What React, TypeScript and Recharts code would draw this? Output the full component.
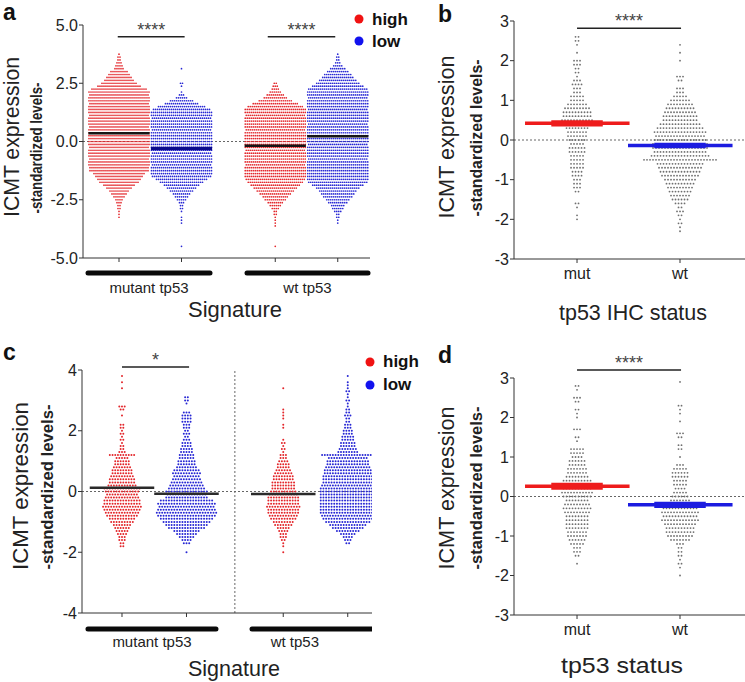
import React from "react";
import {
  ScatterChart,
  Scatter,
  XAxis,
  YAxis,
  ReferenceLine,
  ReferenceArea,
} from "recharts";

const FONT = "'Liberation Sans', Arial, sans-serif";
const AXIS = "#333";
const TXT = "#222";
const RED = "#e3262b";
const BLUE = "#2828d4";
const GREY = "#6f6f6f";

// ---------- panel a (Signature, high/low, mutant vs wt) ----------
const aLevels = [
  3.75, 3.625, 3.5, 3.375, 3.25, 3.125, 3.0, 2.875, 2.75, 2.625,
  2.5, 2.375, 2.25, 2.125, 2.0, 1.875, 1.75, 1.625, 1.5, 1.375,
  1.25, 1.125, 1.0, 0.875, 0.75, 0.625, 0.5, 0.375, 0.25, 0.125,
  0, -0.125, -0.25, -0.375, -0.5, -0.625, -0.75, -0.875, -1.0, -1.125,
  -1.25, -1.375, -1.5, -1.625, -1.75, -1.875, -2.0, -2.125, -2.25, -2.375,
  -2.5, -2.625, -2.75, -2.875, -3.0, -3.125, -3.25, -3.375, -3.5, -3.625,
  -3.75, -3.875, -4.0, -4.125, -4.25, -4.375, -4.5, -4.625,
];
const aMutHigh = [
  1, 2, 2, 3, 4, 5, 9, 11, 13, 15,
  18, 22, 28, 31, 30, 31, 31, 30, 31, 31,
  31, 30, 31, 31, 31, 30, 31, 31, 31, 31,
  31, 31, 30, 31, 31, 31, 30, 31, 31, 30,
  30, 26, 24, 22, 20, 16, 13, 10, 8, 6,
  4, 3, 2, 2, 1, 1, 1, 0, 0, 0,
  0, 0, 0, 0, 0, 0, 0, 0,
];
const aMutLow = [
  0, 0, 0, 0, 0, 1, 0, 0, 0, 0,
  2, 1, 0, 1, 3, 6, 12, 17, 24, 29,
  31, 31, 30, 31, 31, 31, 30, 31, 31, 31,
  31, 31, 31, 31, 30, 31, 31, 31, 30, 31,
  31, 31, 30, 26, 22, 18, 15, 12, 9, 7,
  5, 3, 2, 2, 1, 0, 1, 1, 1, 0,
  0, 0, 0, 0, 0, 0, 1, 0,
];
const aWtHigh = [
  0, 0, 0, 0, 0, 0, 0, 0, 0, 0,
  2, 3, 4, 6, 9, 12, 17, 23, 28, 31,
  31, 30, 31, 31, 31, 31, 30, 31, 31, 31,
  31, 31, 31, 30, 31, 31, 31, 31, 30, 31,
  31, 31, 31, 30, 28, 25, 22, 19, 16, 13,
  11, 8, 6, 4, 2, 2, 1, 1, 1, 1,
  0, 0, 0, 0, 0, 0, 1, 0,
];
const aWtLow = [
  1, 2, 2, 3, 5, 8, 11, 14, 16, 19,
  22, 26, 30, 31, 31, 30, 31, 31, 31, 30,
  31, 31, 31, 31, 30, 31, 31, 31, 31, 31,
  31, 30, 31, 31, 31, 31, 30, 31, 31, 31,
  31, 31, 31, 31, 30, 26, 22, 19, 17, 15,
  12, 10, 7, 6, 4, 2, 2, 1, 1, 0,
  0, 0, 0, 0, 0, 0, 0, 0,
];
const aPos = [1, 2, 3.5, 4.5];
const aMeans = [0.35, -0.3, -0.18, 0.22];
const aYTicks = [-5, -2.5, 0, 2.5, 5];
const aGroups = ["mutant tp53", "wt tp53"];

// ---------- panel b (tp53 IHC status) ----------
const bLevels = [
  2.6, 2.5, 2.4, 2.3, 2.2, 2.1, 2.0, 1.9, 1.8, 1.7,
  1.6, 1.5, 1.4, 1.3, 1.2, 1.1, 1.0, 0.9, 0.8, 0.7,
  0.6, 0.5, 0.4, 0.3, 0.2, 0.1, 0, -0.1, -0.2, -0.3,
  -0.4, -0.5, -0.6, -0.7, -0.8, -0.9, -1.0, -1.1, -1.2, -1.3,
  -1.4, -1.5, -1.6, -1.7, -1.8, -1.9, -2.0, -2.1, -2.2, -2.3,
];
const bMut = [
  2, 2, 1, 0, 1, 0, 3, 3, 2, 2,
  1, 3, 4, 3, 3, 5, 5, 7, 9, 10,
  10, 11, 9, 8, 7, 7, 6, 5, 6, 6,
  5, 5, 5, 5, 4, 4, 3, 3, 3, 2,
  0, 0, 2, 1, 0, 1, 1, 0, 0, 0,
];
const bWt = [
  0, 0, 1, 0, 1, 0, 1, 0, 0, 0,
  3, 2, 0, 3, 3, 5, 7, 9, 10, 11,
  12, 12, 14, 16, 18, 17, 18, 19, 19, 18,
  20, 25, 16, 15, 14, 13, 11, 10, 9, 8,
  7, 6, 4, 2, 3, 2, 1, 2, 1, 1,
];
const bPos = [1, 2];
const bCats = ["mut", "wt"];
const bMeans = [0.42, -0.14];
const bSem = [0.08, 0.07];
const bYTicks = [-3, -2, -1, 0, 1, 2, 3];

// ---------- panel c (Signature, second cohort) ----------
const cLevels = [
  3.8, 3.7, 3.6, 3.5, 3.4, 3.3, 3.2, 3.1, 3.0, 2.9,
  2.8, 2.7, 2.6, 2.5, 2.4, 2.3, 2.2, 2.1, 2.0, 1.9,
  1.8, 1.7, 1.6, 1.5, 1.4, 1.3, 1.2, 1.1, 1.0, 0.9,
  0.8, 0.7, 0.6, 0.5, 0.4, 0.3, 0.2, 0.1, 0, -0.1,
  -0.2, -0.3, -0.4, -0.5, -0.6, -0.7, -0.8, -0.9, -1.0, -1.1,
  -1.2, -1.3, -1.4, -1.5, -1.6, -1.7, -1.8, -1.9, -2.0,
];
const cMutHigh = [
  1, 0, 1, 0, 1, 0, 0, 0, 0, 0,
  3, 2, 0, 1, 0, 0, 2, 2, 1, 2,
  1, 2, 1, 2, 2, 3, 10, 5, 6, 6,
  7, 8, 8, 9, 10, 10, 11, 14, 13, 12,
  13, 14, 14, 15, 14, 13, 12, 10, 9, 7,
  6, 5, 4, 3, 3, 2, 2, 0, 0,
];
const cMutLow = [
  0, 0, 0, 0, 0, 0, 0, 2, 2, 1,
  0, 0, 3, 4, 4, 4, 3, 3, 2, 3,
  2, 3, 4, 4, 5, 5, 6, 6, 7, 7,
  8, 10, 11, 10, 11, 12, 13, 14, 16, 15,
  16, 20, 22, 21, 22, 23, 22, 20, 18, 16,
  14, 10, 8, 6, 4, 3, 0, 0, 1,
];
const cWtHigh = [
  0, 0, 0, 0, 1, 0, 0, 0, 0, 0,
  0, 1, 1, 1, 1, 0, 1, 1, 0, 0,
  0, 1, 2, 1, 2, 1, 3, 3, 4, 5,
  5, 6, 7, 8, 8, 9, 9, 9, 10, 11,
  12, 12, 12, 13, 12, 12, 11, 10, 8, 7,
  5, 4, 3, 3, 2, 1, 1, 0, 1,
];
const cWtLow = [
  1, 0, 1, 1, 1, 2, 1, 1, 2, 1,
  1, 2, 2, 3, 2, 2, 3, 3, 4, 4,
  5, 5, 6, 6, 7, 8, 20, 15, 16, 16,
  17, 18, 18, 19, 19, 19, 20, 21, 21, 21,
  21, 21, 21, 21, 21, 21, 20, 19, 17, 14,
  12, 9, 6, 4, 3, 2, 0, 0, 0,
];
const cPos = [1, 2, 3.5, 4.5];
const cMeans = [0.12, -0.07, -0.08, 0.03];
const cYTicks = [-4, -2, 0, 2, 4];
const cGroups = ["mutant tp53", "wt tp53"];

// ---------- panel d (tp53 status) ----------
const dLevels = [
  2.9, 2.8, 2.7, 2.6, 2.5, 2.4, 2.3, 2.2, 2.1, 2.0,
  1.9, 1.8, 1.7, 1.6, 1.5, 1.4, 1.3, 1.2, 1.1, 1.0,
  0.9, 0.8, 0.7, 0.6, 0.5, 0.4, 0.3, 0.2, 0.1, 0,
  -0.1, -0.2, -0.3, -0.4, -0.5, -0.6, -0.7, -0.8, -0.9, -1.0,
  -1.1, -1.2, -1.3, -1.4, -1.5, -1.6, -1.7, -1.8, -1.9, -2.0,
];
const dMut = [
  0, 2, 1, 0, 3, 2, 0, 2, 1, 1,
  0, 0, 3, 0, 2, 1, 0, 5, 5, 4,
  6, 6, 7, 7, 8, 10, 9, 10, 11, 10,
  8, 9, 10, 9, 8, 8, 8, 8, 7, 7,
  6, 5, 3, 3, 2, 0, 1, 0, 0, 0,
];
const dWt = [
  1, 0, 0, 0, 0, 0, 2, 1, 1, 0,
  1, 0, 0, 3, 2, 0, 2, 2, 0, 1,
  0, 3, 5, 6, 6, 5, 5, 4, 5, 6,
  7, 9, 12, 13, 12, 13, 11, 10, 10, 9,
  7, 3, 2, 2, 2, 1, 2, 1, 0, 1,
];
const dMeans = [0.26, -0.21];
const dSem = [0.09, 0.08];

// one point per value row; the shape spreads the row's count sideways
function rows(levels: number[], counts: number[], x: number) {
  return levels
    .map((y, i) => ({ x, y, n: counts[i] ?? 0 }))
    .filter((r) => r.n > 0);
}

function swarmShape(color: string, gap: number, r: number) {
  return (props: any) => {
    const { cx, cy, payload } = props;
    const n = payload?.n ?? 0;
    const dots = [];
    for (let j = 0; j < n; j++) {
      dots.push(
        <circle key={j} cx={cx + (j - (n - 1) / 2) * gap} cy={cy} r={r} fill={color} />
      );
    }
    return <g>{dots}</g>;
  };
}

const NoTick = () => <g />;

function AxisTitle({ tx, ty, text, size, len }: any) {
  return (
    <text
      x={tx}
      y={ty}
      textAnchor="middle"
      fontSize={size}
      fill={TXT}
      fontFamily={FONT}
      textLength={len}
      lengthAdjust="spacingAndGlyphs"
    >
      {text}
    </text>
  );
}

function YTitle({ mx, my, ml, sx, sy, sl }: any) {
  return (
    <g fill={TXT} fontFamily={FONT}>
      <text
        x={mx}
        y={my}
        transform={`rotate(-90 ${mx} ${my})`}
        textAnchor="middle"
        fontSize={21.5}
        textLength={ml}
        lengthAdjust="spacingAndGlyphs"
      >
        ICMT expression
      </text>
      <text
        x={sx}
        y={sy}
        transform={`rotate(-90 ${sx} ${sy})`}
        textAnchor="middle"
        fontSize={17}
        fontWeight={700}
        textLength={sl}
        lengthAdjust="spacingAndGlyphs"
      >
        -standardized levels-
      </text>
    </g>
  );
}

const starLabel = (text: string) => ({
  value: text,
  position: "top" as const,
  offset: 1,
  fontSize: 18,
  fill: "#444",
  fontFamily: FONT,
});

const groupLabel = (text: string, offset: number) => ({
  value: text,
  position: "bottom" as const,
  offset,
  fontSize: 15,
  fill: TXT,
  fontFamily: FONT,
});

// thick black bar under a group of two columns, with its name
function GroupBar({ x1, x2, y, label, labelX1, labelX2, offset }: any) {
  return [
    <ReferenceLine
      key="bar"
      segment={[{ x: x1, y }, { x: x2, y }]}
      stroke="#0a0a0a"
      strokeWidth={5}
      strokeLinecap="round"
      ifOverflow="visible"
    />,
    <ReferenceLine
      key="txt"
      segment={[{ x: labelX1 ?? x1, y }, { x: labelX2 ?? x2, y }]}
      stroke="none"
      ifOverflow="visible"
      label={groupLabel(label, offset)}
    />,
  ];
}

function PanelA() {
  const dom: [number, number] = [0.424, 5.016];
  const gy = -5.644;
  return (
    <ScatterChart width={372} height={340} margin={{ top: 25, right: 2, bottom: 0, left: 38 }}>
      <XAxis
        type="number"
        dataKey="x"
        domain={dom}
        allowDataOverflow
        ticks={aPos}
        interval={0}
        tick={<NoTick />}
        tickSize={4}
        height={82}
        stroke={AXIS}
        label={<AxisTitle tx={235} ty={317} text="Signature" size={22} len={94} />}
      />
      <YAxis
        type="number"
        dataKey="y"
        domain={[-5, 5]}
        allowDataOverflow
        ticks={aYTicks}
        interval={0}
        tickFormatter={(v: number) => v.toFixed(1)}
        width={45}
        tickSize={4}
        tickMargin={1}
        stroke={AXIS}
        tick={{ fill: TXT, fontSize: 16, fontFamily: FONT }}
        label={<YTitle mx={19} my={137} ml={160} sx={42} sy={148} sl={131} />}
      />
      <ReferenceLine y={0} stroke="#666" strokeDasharray="2 2" />
      <Scatter data={rows(aLevels, aMutHigh, aPos[0])} shape={swarmShape(RED, 2, 0.85)} isAnimationActive={false} />
      <Scatter data={rows(aLevels, aMutLow, aPos[1])} shape={swarmShape(BLUE, 2, 0.85)} isAnimationActive={false} />
      <Scatter data={rows(aLevels, aWtHigh, aPos[2])} shape={swarmShape(RED, 2, 0.85)} isAnimationActive={false} />
      <Scatter data={rows(aLevels, aWtLow, aPos[3])} shape={swarmShape(BLUE, 2, 0.85)} isAnimationActive={false} />
      {aMeans.map((m, i) => (
        <ReferenceLine
          key={i}
          zIndex={700}
          segment={[{ x: aPos[i] - 0.49, y: m }, { x: aPos[i] + 0.49, y: m }]}
          stroke={i === 1 ? "#0a0a8c" : "#151515"}
          strokeWidth={i === 1 ? 3.5 : 2.5}
        />
      ))}
      <ReferenceLine
        segment={[{ x: 0.98, y: 4.5 }, { x: 2.05, y: 4.5 }]}
        stroke="#222"
        strokeWidth={1.5}
        ifOverflow="visible"
        label={starLabel("****")}
      />
      <ReferenceLine
        segment={[{ x: 3.38, y: 4.5 }, { x: 4.46, y: 4.5 }]}
        stroke="#222"
        strokeWidth={1.5}
        ifOverflow="visible"
        label={starLabel("****")}
      />
      {GroupBar({ x1: 0.504, x2: 2.456, y: gy, label: aGroups[0], offset: 9.5 })}
      {GroupBar({ x1: 3.048, x2: 4.984, y: gy, label: aGroups[1], offset: 9.5 })}
    </ScatterChart>
  );
}

function PanelTwoGroup({
  top,
  mut,
  wt,
  levels,
  means,
  sem,
  title,
  titleX,
  titleY,
  titleLen,
  sigY,
  yTitle,
}: any) {
  const dom: [number, number] = [0.388, 2.631];
  const xh = top === 21 ? 81 : 67;
  const colors = ["#ee1c1c", "#1c1ce0"];
  return (
    <ScatterChart width={373} height={top === 21 ? 340 : 342} margin={{ top, right: 0, bottom: 0, left: 97 }}>
      <XAxis
        type="number"
        dataKey="x"
        domain={dom}
        allowDataOverflow
        ticks={bPos}
        interval={0}
        tickFormatter={(v: number) => bCats[bPos.indexOf(v)] ?? ""}
        tickSize={4}
        tickMargin={5}
        height={xh}
        stroke={AXIS}
        tick={{ fill: TXT, fontSize: 16, fontFamily: FONT }}
        label={<AxisTitle tx={titleX} ty={titleY} text={title} size={21.5} len={titleLen} />}
      />
      <YAxis
        type="number"
        dataKey="y"
        domain={[-3, 3]}
        allowDataOverflow
        ticks={bYTicks}
        interval={0}
        width={45}
        tickSize={4}
        tickMargin={1}
        stroke={AXIS}
        tick={{ fill: TXT, fontSize: 16, fontFamily: FONT }}
        label={yTitle}
      />
      <ReferenceLine y={0} stroke="#666" strokeDasharray="2 2" />
      <Scatter data={rows(levels, mut, bPos[0])} shape={swarmShape(GREY, 3, 0.9)} isAnimationActive={false} />
      <Scatter data={rows(levels, wt, bPos[1])} shape={swarmShape(GREY, 3, 0.9)} isAnimationActive={false} />
      {means.map((m: number, i: number) => (
        <ReferenceArea
          key={`s${i}`}
          zIndex={700}
          x1={bPos[i] - 0.25}
          x2={bPos[i] + 0.25}
          y1={m - sem[i]}
          y2={m + sem[i]}
          fill={colors[i]}
          fillOpacity={1}
          stroke="none"
        />
      ))}
      {means.map((m: number, i: number) => (
        <ReferenceLine
          key={`m${i}`}
          zIndex={710}
          segment={[{ x: bPos[i] - 0.505, y: m }, { x: bPos[i] + 0.51, y: m }]}
          stroke={colors[i]}
          strokeWidth={3.5}
        />
      ))}
      <ReferenceLine
        segment={[{ x: 1, y: sigY }, { x: 2.01, y: sigY }]}
        stroke="#222"
        strokeWidth={1.5}
        ifOverflow="visible"
        label={starLabel("****")}
      />
    </ScatterChart>
  );
}

function PanelC() {
  const dom: [number, number] = [0.38, 4.876];
  const gy = -4.527;
  return (
    <ScatterChart width={372} height={342} margin={{ top: 30, right: 0, bottom: 0, left: 37 }}>
      <XAxis
        type="number"
        dataKey="x"
        domain={dom}
        allowDataOverflow
        ticks={cPos}
        interval={0}
        tick={<NoTick />}
        tickSize={4}
        height={69}
        stroke={AXIS}
        label={<AxisTitle tx={234} ty={336} text="Signature" size={22} len={92} />}
      />
      <YAxis
        type="number"
        dataKey="y"
        domain={[-4, 4]}
        allowDataOverflow
        ticks={cYTicks}
        interval={0}
        width={45}
        tickSize={4}
        tickMargin={1}
        stroke={AXIS}
        tick={{ fill: TXT, fontSize: 16, fontFamily: FONT }}
        label={<YTitle mx={28} my={146} ml={168} sx={53} sy={147} sl={165} />}
      />
      <ReferenceLine y={0} stroke="#666" strokeDasharray="2 2" />
      <ReferenceLine x={2.75} stroke="#666" strokeDasharray="2 2" />
      <Scatter data={rows(cLevels, cMutHigh, cPos[0])} shape={swarmShape(RED, 2.7, 1)} isAnimationActive={false} />
      <Scatter data={rows(cLevels, cMutLow, cPos[1])} shape={swarmShape(BLUE, 2.7, 1)} isAnimationActive={false} />
      <Scatter data={rows(cLevels, cWtHigh, cPos[2])} shape={swarmShape(RED, 2.7, 1)} isAnimationActive={false} />
      <Scatter data={rows(cLevels, cWtLow, cPos[3])} shape={swarmShape(BLUE, 2.7, 1)} isAnimationActive={false} />
      {cMeans.map((m, i) => (
        <ReferenceLine
          key={i}
          zIndex={700}
          segment={[{ x: cPos[i] - 0.5, y: m }, { x: cPos[i] + 0.5, y: m }]}
          stroke="#2a2a2a"
          strokeWidth={2.5}
        />
      ))}
      <ReferenceLine
        segment={[{ x: 1, y: 4.1 }, { x: 2.04, y: 4.1 }]}
        stroke="#222"
        strokeWidth={1.5}
        ifOverflow="visible"
        label={starLabel("*")}
      />
      {GroupBar({ x1: 0.473, x2: 2.457, y: gy, label: cGroups[0], offset: 7.5 })}
      {GroupBar({ x1: 3.016, x2: 4.876, y: gy, label: cGroups[1], labelX1: 3.2, labelX2: 4.16, offset: 7.5 })}
    </ScatterChart>
  );
}

function Overlay() {
  const letter = { fontSize: 23, fontWeight: 700, fill: "#111", fontFamily: FONT };
  const leg = { fontSize: 17, fontWeight: 700, fill: "#111", fontFamily: FONT };
  return (
    <svg
      width={745}
      height={682}
      style={{ position: "absolute", left: 0, top: 0, pointerEvents: "none" }}
    >
      <text x={3} y={20} {...letter}>a</text>
      <text x={438} y={22} {...letter}>b</text>
      <text x={3} y={360} {...letter}>c</text>
      <text x={438} y={363} {...letter}>d</text>

      <circle cx={359} cy={19} r={4.5} fill="#f01212" />
      <circle cx={359} cy={41} r={4.5} fill="#1212ee" />
      <text x={372} y={25} {...leg}>high</text>
      <text x={372} y={47} {...leg}>low</text>

      <circle cx={370} cy={362} r={4.5} fill="#f01212" />
      <circle cx={370} cy={385} r={4.5} fill="#1212ee" />
      <text x={383} y={367} {...leg}>high</text>
      <text x={383} y={390} {...leg}>low</text>
    </svg>
  );
}

export default function App() {
  return (
    <div
      style={{
        position: "absolute",
        left: 0,
        top: 0,
        width: 745,
        height: 682,
        background: "#fff",
        fontFamily: FONT,
        overflow: "hidden",
      }}
    >
      <div style={{ position: "absolute", left: 0, top: 0 }}>
        <PanelA />
      </div>
      <div style={{ position: "absolute", left: 372, top: 0 }}>
        <PanelTwoGroup
          top={21}
          mut={bMut}
          wt={bWt}
          levels={bLevels}
          means={bMeans}
          sem={bSem}
          title="tp53 IHC status"
          titleX={261}
          titleY={320}
          titleLen={148}
          sigY={2.82}
          yTitle={<YTitle mx={82} my={137} ml={163} sx={110} sy={138} sl={157} />}
        />
      </div>
      <div style={{ position: "absolute", left: 0, top: 340 }}>
        <PanelC />
      </div>
      <div style={{ position: "absolute", left: 372, top: 340 }}>
        <PanelTwoGroup
          top={38}
          mut={dMut}
          wt={dWt}
          levels={dLevels}
          means={dMeans}
          sem={dSem}
          title="tp53 status"
          titleX={250}
          titleY={333}
          titleLen={122}
          sigY={3.2}
          yTitle={<YTitle mx={82} my={148} ml={163} sx={110} sy={148} sl={163} />}
        />
      </div>
      <Overlay />
    </div>
  );
}
